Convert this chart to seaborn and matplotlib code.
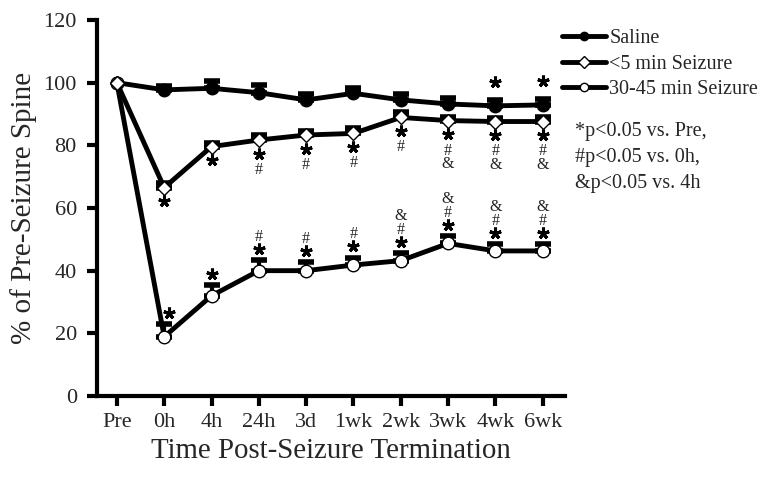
import numpy as np
import pandas as pd
import matplotlib
matplotlib.use("Agg")
import matplotlib.pyplot as plt
import seaborn as sns

times = ["Pre", "0h", "4h", "24h", "3d", "1wk", "2wk", "3wk", "4wk", "6wk"]
groups = ["Saline", "<5 min Seizure", "30-45 min Seizure"]

saline = [100, 97.7, 98.2, 96.8, 94.5, 96.6, 94.5, 93.2, 92.6, 92.9]
saline_err = [0, 1.2, 2.3, 2.4, 1.8, 1.7, 1.8, 1.8, 2.0, 2.0]
short = [100, 66.5, 79.6, 81.7, 83.3, 83.8, 88.9, 87.9, 87.6, 87.6]
short_err = [0, 1.4, 1.1, 1.5, 1.4, 1.6, 1.6, 1.2, 1.2, 1.4]
long_ = [100, 18.9, 32.0, 40.0, 40.0, 41.8, 43.2, 48.7, 46.3, 46.3]
long_err = [0, 4.0, 3.3, 3.3, 2.7, 2.4, 2.5, 2.4, 2.1, 2.1]

saline_sig = ["", "", "", "", "", "", "", "", "*", "*"]
short_sig = ["", "*", "*", "*#", "*#", "*#", "*#", "*#&", "*#&", "*#&"]
long_sig = ["", "*", "*", "*#", "*#", "*#", "*#&", "*#&", "*#&", "*#&"]

note = "*p<0.05 vs. Pre,\n#p<0.05 vs. 0h,\n&p<0.05 vs. 4h"

sns.set_style("ticks")
plt.rcParams["font.family"] = ["Liberation Serif", "DejaVu Serif"]

fig = plt.figure(figsize=(7.64, 4.80), dpi=100)
ax = fig.add_axes([97 / 764, 84 / 480, (565 - 97) / 764, 376 / 480])

x = np.arange(len(times))
series = [
    (groups[0], saline, saline_err, "o", "black", saline_sig),
    (groups[2], long_, long_err, "o", "white", long_sig),
    (groups[1], short, short_err, "D", "white", short_sig),
]
handles = {}
for z, (name, vals, err, mk, fc, sig) in enumerate(series):
    df = pd.DataFrame({"t": x, "v": vals})
    ms = 9 if mk == "o" else 7.5
    ax.errorbar(x[1:], vals[1:], yerr=[np.zeros(len(x) - 1), err[1:]], fmt="none",
                ecolor="black", elinewidth=3, capsize=6, capthick=4, zorder=2 + z)
    sns.lineplot(data=df, x="t", y="v", ax=ax, color="black", linewidth=3.5,
                 marker=mk, markersize=ms, markerfacecolor=fc,
                 markeredgecolor="black", markeredgewidth=1.0, zorder=3 + z)
    handles[name] = ax.lines[-1]

# significance markers: stars as asterisk markers, # / & as one stacked text
star_x, star_y = [], []
for name, vals, err, mk, fc, sig in series:
    for i, s in enumerate(sig):
        if not s:
            continue
        dx = 0.1 if (name == groups[2] and i == 1) else 0.0
        rest = [c for c in s if c != "*"]
        if name == groups[1]:
            sy = vals[i] - 4.4
            star_x.append(x[i] + dx); star_y.append(sy)
            if rest:
                ax.text(x[i] + dx, sy - 2.6, "\n".join(rest), ha="center", va="top",
                        fontsize=11.5, linespacing=0.82, zorder=10)
        else:
            off = 5.5 if name == groups[0] else 3.6
            sy = vals[i] + err[i] + off
            star_x.append(x[i] + dx); star_y.append(sy)
            if rest:
                ax.text(x[i] + dx, sy + 1.2, "\n".join(rest[::-1]), ha="center", va="bottom",
                        fontsize=11.5, linespacing=0.82, zorder=10)
ax.plot(star_x, star_y, linestyle="none", marker=(5, 2, 0), markersize=8.5,
        markeredgewidth=2.2, color="black", zorder=10)

ax.set_xlim(-0.42, 9.47)
ax.set_ylim(0, 120)
ax.set_xticks(x)
ax.set_xticklabels(times)
ax.set_yticks(np.arange(0, 121, 20))
ax.tick_params(axis="both", width=3, length=7.5, labelsize=16, direction="out", color="black")
ax.tick_params(axis="y", pad=7)
ax.tick_params(axis="x", pad=5)
sns.despine(ax=ax)
for sp in ["left", "bottom"]:
    ax.spines[sp].set_linewidth(3)
    ax.spines[sp].set_color("black")
ax.set_xlabel("Time Post-Seizure Termination", fontsize=20.8, labelpad=4)
ax.set_ylabel("% of Pre-Seizure Spine", fontsize=21, labelpad=5)

leg = fig.legend([handles[g] for g in groups], groups, loc="upper left",
                 bbox_to_anchor=(562 / 764, 1 - 29 / 480), frameon=False, fontsize=14.5,
                 handlelength=2.2, handletextpad=0.15, labelspacing=0.32, borderpad=0,
                 borderaxespad=0)
for h in leg.legend_handles:
    h.set_markersize(6)

fig.text(575 / 764, 1 - 122 / 480, note, ha="left", va="top", fontsize=14.5, linespacing=1.5)

fig.savefig("out.png", dpi=100)
